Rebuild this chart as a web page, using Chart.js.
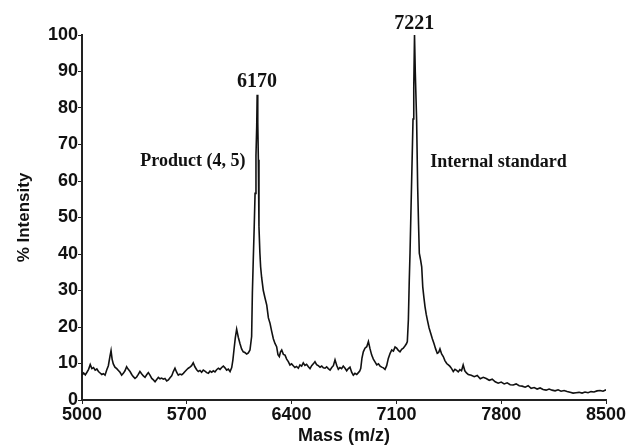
<!DOCTYPE html>
<html>
<head>
<meta charset="utf-8">
<script src="https://cdn.jsdelivr.net/npm/chart.js@4/dist/chart.umd.min.js"></script>
<style>
  html, body { margin: 0; padding: 0; background: #fff; }
  canvas { display: block; }
</style>
</head>
<body>
<canvas id="spectrum" width="628" height="447"></canvas>
<script>
// Mass spectrum (m/z, % intensity)
const mass = [
    5000, 5011, 5022, 5033, 5044, 5055, 5066, 5077, 5088, 5099,
    5110, 5121, 5132, 5143, 5154, 5165, 5176, 5187, 5194, 5201,
    5209, 5220, 5232, 5243, 5254, 5265, 5276, 5287, 5298, 5309,
    5321, 5332, 5343, 5354, 5365, 5376, 5387, 5398, 5410, 5421,
    5432, 5443, 5454, 5466, 5477, 5488, 5499, 5510, 5521, 5532,
    5543, 5554, 5566, 5577, 5588, 5599, 5610, 5621, 5632, 5643,
    5654, 5666, 5677, 5688, 5699, 5710, 5721, 5732, 5743, 5754,
    5766, 5777, 5788, 5799, 5810, 5821, 5833, 5844, 5855, 5866,
    5877, 5888, 5899, 5911, 5922, 5933, 5944, 5955, 5966, 5977,
    5989, 6000, 6008, 6015, 6024, 6033, 6044, 6055, 6066, 6077,
    6088, 6100, 6111, 6122, 6133, 6138, 6144, 6150, 6156, 6162,
    6167, 6170, 6174, 6178, 6182, 6188, 6193, 6200, 6211, 6222,
    6234, 6245, 6256, 6267, 6278, 6289, 6300, 6309, 6318, 6326,
    6334, 6345, 6356, 6367, 6378, 6389, 6400, 6411, 6422, 6433,
    6445, 6456, 6467, 6478, 6489, 6500, 6512, 6523, 6534, 6545,
    6556, 6567, 6578, 6590, 6601, 6612, 6623, 6634, 6645, 6657,
    6668, 6679, 6690, 6701, 6712, 6723, 6734, 6745, 6757, 6768,
    6779, 6790, 6801, 6812, 6823, 6835, 6846, 6855, 6862, 6870,
    6879, 6890, 6902, 6913, 6924, 6935, 6946, 6958, 6969, 6980,
    6991, 7002, 7013, 7024, 7035, 7046, 7058, 7069, 7080, 7091,
    7102, 7113, 7124, 7135, 7146, 7157, 7167, 7173, 7180, 7186,
    7191, 7199, 7206, 7211, 7216, 7221, 7226, 7235, 7242, 7248,
    7253, 7261, 7269, 7276, 7284, 7291, 7299, 7307, 7318, 7329,
    7340, 7351, 7362, 7373, 7382, 7391, 7402, 7413, 7424, 7436,
    7447, 7458, 7469, 7480, 7491, 7502, 7513, 7524, 7535, 7546,
    7557, 7568, 7580, 7600, 7620, 7640, 7660, 7680, 7700, 7720,
    7740, 7760, 7780, 7800, 7820, 7840, 7860, 7880, 7900, 7920,
    7940, 7960, 7980, 8000, 8020, 8040, 8060, 8080, 8100, 8120,
    8140, 8160, 8180, 8200, 8220, 8240, 8260, 8280, 8300, 8320,
    8340, 8360, 8380, 8400, 8420, 8440, 8460, 8480, 8500
];
const intensity = [
    6.8, 7.4, 6.9, 7.6, 8.4, 9.7, 8.6, 8.9, 8.2, 8.5,
    7.8, 7.4, 7.0, 7.2, 6.8, 8.2, 9.4, 12.0, 13.5, 11.2,
    9.9, 9.0, 8.6, 8.1, 7.6, 6.8, 7.3, 8.0, 9.1, 8.4,
    7.8, 7.0, 6.4, 5.9, 6.3, 7.0, 7.8, 7.2, 6.6, 6.2,
    6.9, 7.5, 6.8, 5.9, 5.5, 5.0, 5.6, 6.2, 5.8, 6.0,
    5.7, 5.9, 5.2, 5.5, 6.1, 6.6, 7.8, 8.7, 7.6, 6.8,
    7.1, 6.9, 7.3, 7.8, 8.3, 8.7, 9.0, 9.4, 10.2, 9.1,
    8.3, 7.8, 8.1, 7.6, 8.2, 7.9, 7.5, 7.3, 7.9, 7.6,
    8.0, 7.7, 8.3, 8.7, 8.4, 8.9, 9.3, 8.8, 8.2, 8.5,
    7.8, 8.9, 11.0, 13.7, 17.0, 19.4, 17.2, 15.5, 14.0, 13.2,
    13.0, 12.6, 12.9, 13.7, 17.4, 29.3, 38.4, 47.0, 56.6, 67.0,
    74.9, 83.6, 76.0, 65.8, 47.5, 40.5, 36.5, 33.5, 30.0, 28.0,
    26.0, 22.5, 21.0, 18.8, 16.8, 15.5, 14.6, 12.4, 11.9, 13.2,
    13.7, 12.5, 12.3, 11.2, 10.5, 9.6, 9.9, 9.4, 8.9, 9.2,
    8.7, 9.6, 9.3, 10.2, 9.5, 9.8, 9.1, 8.6, 9.4, 9.9,
    10.5, 9.7, 9.4, 9.0, 9.3, 8.8, 8.7, 9.1, 8.6, 8.2,
    8.9, 9.4, 11.0, 9.5, 8.4, 8.9, 8.6, 9.3, 8.7, 8.0,
    8.6, 9.0, 7.6, 6.8, 7.3, 7.0, 7.5, 7.9, 8.7, 11.5,
    13.2, 14.2, 14.6, 16.0, 14.0, 12.3, 11.2, 10.4, 9.6, 9.9,
    9.3, 9.0, 8.8, 8.4, 9.4, 11.4, 12.8, 13.7, 13.4, 14.5,
    14.2, 13.6, 13.2, 13.9, 14.2, 14.8, 15.4, 16.0, 22.0, 32.9,
    40.3, 55.0, 67.7, 77.0, 85.8, 100, 90.0, 76.7, 58.4, 48.0,
    40.2, 38.5, 36.5, 31.0, 28.0, 25.6, 23.5, 21.9, 19.8, 18.3,
    16.8, 15.5, 14.0, 12.8, 13.0, 14.0, 12.6, 11.9, 10.8, 10.0,
    9.6, 9.2, 8.6, 7.8, 8.4, 8.1, 7.7, 8.3, 8.0, 9.6,
    8.0, 7.4, 7.0, 6.8, 6.4, 6.7, 5.8, 6.2, 5.9, 5.4,
    5.7, 5.0, 4.6, 4.9, 4.4, 4.7, 4.2, 4.1, 4.4, 3.9,
    3.8, 3.5, 3.9, 3.2, 3.4, 3.0, 3.3, 2.9, 2.7, 3.0,
    2.7, 2.5, 2.8, 2.4, 2.6, 2.3, 2.1, 1.9, 2.0, 2.1,
    1.9, 2.2, 2.0, 2.3, 2.2, 2.5, 2.6, 2.4, 2.8
];

// Axis ticks
const massTicks = [5000, 5700, 6400, 7100, 7800, 8500];
const intensityTicks = [0, 10, 20, 30, 40, 50, 60, 70, 80, 90, 100];

// Text notes on the plot (placed in data units)
const noteText = ['6170', '7221', 'Product (4, 5)', 'Internal standard'];
const noteMass = [6169, 7219, 5741, 7782];
const noteIntensity = [87.2, 103.0, 65.5, 65.2];
const noteSize = [20, 20, 18, 18];

// Draws the peak labels through the chart's own scales
const notesPlugin = {
    id: 'notes',
    afterDatasetsDraw(chart) {
        const ctx = chart.ctx;
        const xs = chart.scales.x;
        const ys = chart.scales.y;
        ctx.save();
        ctx.fillStyle = '#111';
        ctx.textAlign = 'center';
        ctx.textBaseline = 'middle';
        noteText.forEach((t, i) => {
            ctx.font = 'bold ' + noteSize[i] + 'px "Liberation Serif", "Times New Roman", serif';
            ctx.fillText(t, xs.getPixelForValue(noteMass[i]), ys.getPixelForValue(noteIntensity[i]));
        });
        ctx.restore();
    }
};

const points = mass.map((m, i) => ({ x: m, y: intensity[i] }));
const tickFont = { family: '"Liberation Sans", Arial, sans-serif', weight: 'bold' };

new Chart(document.getElementById('spectrum'), {
    type: 'line',
    data: {
        datasets: [{
            data: points,
            borderColor: '#111',
            borderWidth: 1.6,
            pointRadius: 0,
            tension: 0,
            fill: false
        }]
    },
    options: {
        responsive: false,
        animation: false,
        layout: { padding: { top: 35, right: 22, bottom: 0, left: 0 } },
        plugins: {
            legend: { display: false },
            tooltip: { enabled: false }
        },
        scales: {
            x: {
                type: 'linear',
                min: 5000,
                max: 8500,
                afterFit(scale) { scale.height = 47; },
                afterBuildTicks(scale) { scale.ticks = massTicks.map(v => ({ value: v })); },
                border: { color: '#222', width: 2 },
                grid: { drawOnChartArea: false, drawTicks: true, tickLength: 4, color: '#222' },
                ticks: {
                    color: '#111',
                    padding: 0,
                    maxRotation: 0,
                    font: { ...tickFont, size: 18 },
                    callback: value => String(value)
                },
                title: {
                    display: true,
                    text: 'Mass (m/z)',
                    color: '#111',
                    padding: { top: 0, bottom: 0 },
                    font: { ...tickFont, size: 18 }
                }
            },
            y: {
                min: 0,
                max: 100,
                afterFit(scale) { scale.width = 82; },
                afterBuildTicks(scale) { scale.ticks = intensityTicks.map(v => ({ value: v })); },
                border: { color: '#222', width: 2 },
                grid: { drawOnChartArea: false, drawTicks: true, tickLength: 4, color: '#222' },
                ticks: {
                    color: '#111',
                    padding: 0,
                    font: { ...tickFont, size: 18 },
                    callback: value => String(value)
                },
                title: {
                    display: true,
                    text: '% Intensity',
                    color: '#111',
                    padding: { top: 14, bottom: 0 },
                    font: { ...tickFont, size: 17 }
                }
            }
        }
    },
    plugins: [notesPlugin]
});
</script>
</body>
</html>
